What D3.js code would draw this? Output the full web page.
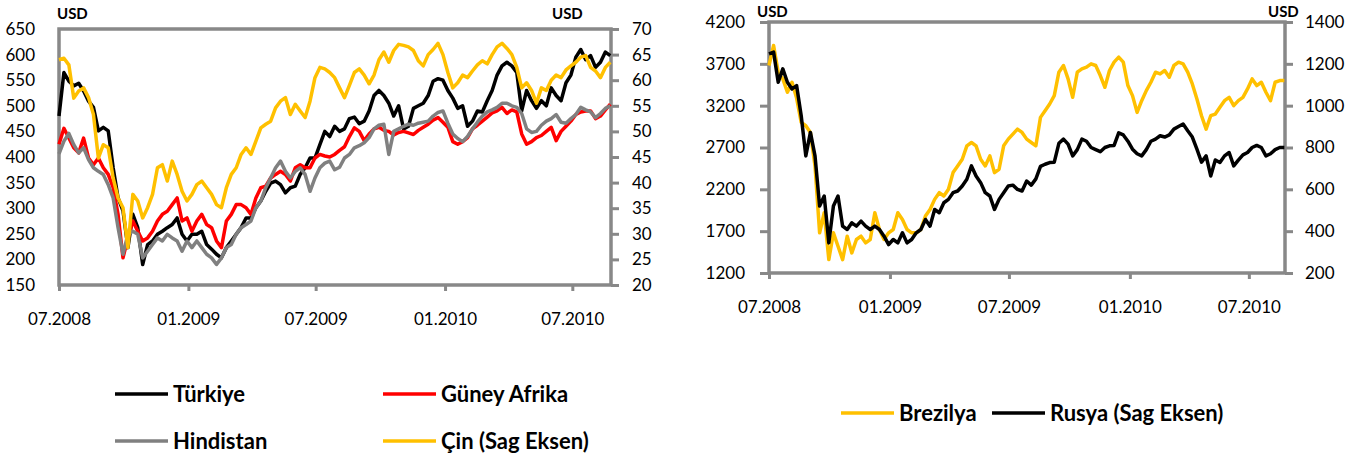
<!DOCTYPE html>
<html>
<head>
<meta charset="utf-8">
<script src="https://cdn.jsdelivr.net/npm/d3@7"></script>
<style>
  body { margin: 0; background: #fff; }
  text { font-family: Lato, "Open Sans", sans-serif; fill: #000; }
  .tick text { font-size: 17px; }
  .unit { font-size: 15px; font-weight: bold; }
  .legend text { font-size: 22px; font-weight: bold; }
</style>
</head>
<body>
<div id="charts"></div>
<script>
// weekly closes, 07.2008 - 08.2010

const START_DATE = new Date(2008, 6, 1);
const END_DATE = new Date(2010, 7, 25);

const TURKIYE = [
  480, 565, 548, 539, 544, 529, 509, 497, 451, 458,
  451, 379, 320, 295, 223, 288, 262, 190, 229, 236,
  249, 255, 262, 268, 281, 249, 236, 249, 249, 255,
  229, 220, 210, 203, 223, 236, 249, 262, 281, 281,
  301, 314, 333, 349, 353, 346, 330, 340, 343, 366,
  379, 398, 398, 424, 450, 440, 460, 450, 455, 475,
  478, 465, 470, 490, 520, 530, 520, 505, 480, 500,
  455, 460, 495, 500, 505, 520, 548, 553, 550, 530,
  515, 495, 500, 460, 470, 490, 488, 510, 530, 560,
  578, 585, 578, 565, 490, 530, 510, 495, 510, 500,
  535, 520, 510, 545, 560, 595, 610, 590, 598, 575,
  585, 605, 598
];

const GUNEY_AFRIKA = [
  425, 456, 437, 418, 408, 437, 398, 385, 398, 379,
  366, 340, 288, 203, 242, 275, 255, 236, 242, 255,
  275, 288, 294, 307, 320, 275, 281, 255, 275, 288,
  268, 262, 236, 223, 275, 288, 307, 307, 301, 288,
  320, 340, 343, 359, 366, 372, 366, 353, 379, 385,
  379, 379, 398, 405, 402, 400, 405, 413, 420, 440,
  457, 450, 432, 445, 455, 458, 452, 450, 443, 448,
  450, 447, 444, 452, 458, 464, 472, 477, 468, 458,
  430, 425, 430, 438, 455, 462, 470, 478, 486, 490,
  497, 485, 492, 488, 445, 425, 430, 438, 442, 450,
  458, 432, 450, 460, 470, 483, 488, 490, 490, 475,
  480, 492, 503
];

const HINDISTAN = [
  406, 431, 446, 424, 408, 418, 395, 379, 372, 366,
  346, 320, 262, 210, 249, 255, 249, 203, 216, 229,
  242, 236, 249, 242, 236, 216, 236, 223, 236, 223,
  210, 203, 190, 203, 223, 229, 249, 262, 268, 275,
  301, 314, 340, 359, 379, 392, 372, 359, 372, 379,
  366, 333, 359, 379, 388, 392, 375, 380, 398, 405,
  418, 422, 428, 438, 455, 462, 464, 405, 450, 455,
  460, 464, 462, 466, 468, 470, 480, 487, 490, 466,
  445, 436, 430, 440, 455, 468, 480, 488, 492, 497,
  505, 505, 500, 497, 485, 455, 448, 450, 462, 470,
  475, 483, 468, 466, 475, 483, 497, 492, 488, 477,
  485, 495, 500
];

// right axis
const CIN = [
  64, 64.3, 63, 56.5, 57.9, 58.5, 56.6, 53.3, 44.8, 47.4,
  46.8, 40.9, 37, 35.1, 27.3, 37.7, 36.4, 33.1, 35.1, 37.7,
  42.9, 43.5, 40.3, 44.2, 41.6, 38.3, 36.4, 37.7, 39.6, 40.3,
  39, 37.7, 35.7, 35.1, 39, 41.6, 42.9, 45.5, 46.8, 45.5,
  48.1, 50.7, 51.4, 52, 54.6, 55.9, 56.6, 53.3, 55.3, 54,
  52.7, 55.9, 60.5, 62.5, 62.2, 61.5, 60.5, 58.5, 56.6, 59,
  61.5, 62.2, 61, 59.3, 61, 64, 65.5, 63.5, 65.8, 67,
  66.8, 66.5, 65.8, 63.8, 62.8, 65, 66, 67.2, 65, 61.5,
  58.5, 59.5, 61, 60.5, 61.8, 63, 63.8, 63.2, 65, 66.5,
  67.2, 66.2, 65, 62.5, 58.5, 59.5, 58, 55.5, 58.5, 58,
  60, 61, 60.5, 62, 62.8, 63.5, 64.5, 64.8, 62.5, 61.8,
  60.5, 62.5, 63.5
];

const BREZILYA = [
  3680, 3920, 3600, 3520, 3360, 3480, 3290, 3000, 2960, 2880,
  2480, 1680, 1920, 1360, 1680, 1520, 1360, 1640, 1440, 1600,
  1640, 1560, 1600, 1920, 1720, 1600, 1680, 1720, 1920, 1840,
  1720, 1680, 1680, 1720, 1880, 1960, 2080, 2160, 2120, 2200,
  2400, 2480, 2560, 2720, 2760, 2720, 2560, 2480, 2600, 2400,
  2440, 2720, 2800, 2860, 2920, 2880, 2800, 2760, 2720, 3060,
  3140, 3220, 3320, 3600, 3680, 3520, 3300, 3600, 3640, 3660,
  3700, 3680, 3560, 3420, 3620, 3720, 3780, 3720, 3440, 3320,
  3120, 3260, 3380, 3480, 3600, 3580, 3620, 3540, 3680, 3720,
  3700, 3600, 3460, 3280, 3080, 2920, 3080, 3100, 3180, 3260,
  3300, 3200, 3260, 3300, 3400, 3520, 3440, 3480, 3360, 3260,
  3480, 3500, 3500
];

// right axis
const RUSYA = [
  1248, 1256, 1112, 1176, 1112, 1080, 1096, 952, 760, 872,
  760, 520, 568, 344, 520, 568, 424, 408, 440, 424,
  448, 424, 408, 424, 408, 376, 336, 360, 344, 392,
  344, 360, 392, 408, 456, 424, 504, 488, 536, 552,
  584, 592, 616, 648, 712, 664, 632, 584, 568, 504,
  552, 584, 616, 620, 600, 592, 640, 620, 650, 710,
  720, 728, 730, 820, 840, 816, 760, 790, 840, 830,
  800, 790, 780, 800, 808, 810, 870, 860, 830, 792,
  770, 760, 790, 830, 840, 856, 850, 860, 888, 900,
  912, 880, 850, 792, 730, 760, 664, 740, 728, 760,
  776, 712, 740, 765, 776, 800, 810, 800, 760, 770,
  790, 800, 800
];

const X_TICKS = ['07.2008', '01.2009', '07.2009', '01.2010', '07.2010'];
const LEFT_TICKS_1 = [150, 200, 250, 300, 350, 400, 450, 500, 550, 600, 650];
const RIGHT_TICKS_1 = [20, 25, 30, 35, 40, 45, 50, 55, 60, 65, 70];
const LEFT_TICKS_2 = [1200, 1700, 2200, 2700, 3200, 3700, 4200];
const RIGHT_TICKS_2 = [200, 400, 600, 800, 1000, 1200, 1400];

const BLACK = '#000000';
const RED = '#ff0000';
const GRAY = '#808080';
const GOLD = '#ffc000';
const FRAME_COLOR = '#888888';

const parseTick = d3.timeParse('%m.%Y');
const DATES = TURKIYE.map((d, i) => d3.timeDay.offset(START_DATE, i * 7));

const svg = d3.select('#charts')
  .append('svg')
    .attr('width', 1366)
    .attr('height', 457);

// draw one panel: frame, axes, series
function build_panel(box, leftDomain, rightDomain, leftTicks, rightTicks, series, opts) {

  const X_SCALE = d3.scaleTime()
    .domain([START_DATE, END_DATE])
    .range([box.left, box.right]);

  const Y_LEFT = d3.scaleLinear()
    .domain(leftDomain)
    .range([box.bottom, box.top]);

  const Y_RIGHT = d3.scaleLinear()
    .domain(rightDomain)
    .range([box.bottom, box.top]);

  // x axis
  const xAxis = svg.append('g')
    .attr('transform', 'translate(0,' + box.bottom + ')')
    .call(d3.axisBottom(X_SCALE)
      .tickValues(X_TICKS.map(parseTick))
      .tickFormat(d3.timeFormat('%m.%Y'))
      .tickSizeInner(6)
      .tickSizeOuter(0)
      .tickPadding(opts.xPad));

  const yLeft = svg.append('g')
    .attr('transform', 'translate(' + box.left + ',0)')
    .call(d3.axisLeft(Y_LEFT)
      .tickValues(leftTicks)
      .tickFormat(d3.format('d'))
      .tickSizeInner(opts.leftTick)
      .tickSizeOuter(0)
      .tickPadding(opts.leftPad));

  const yRight = svg.append('g')
    .attr('transform', 'translate(' + box.right + ',0)')
    .call(d3.axisRight(Y_RIGHT)
      .tickValues(rightTicks)
      .tickFormat(d3.format('d'))
      .tickSizeInner(8)
      .tickSizeOuter(0)
      .tickPadding(opts.rightPad));

  [xAxis, yLeft, yRight].forEach((g) => {
    g.select('.domain').remove();
    g.selectAll('.tick line')
      .attr('stroke', FRAME_COLOR)
      .attr('stroke-width', 3);
  });

  // frame
  svg.append('rect')
    .attr('x', box.left)
    .attr('y', box.top)
    .attr('width', box.right - box.left)
    .attr('height', box.bottom - box.top)
    .attr('fill', 'none')
    .attr('stroke', FRAME_COLOR)
    .attr('stroke-width', 3.5);

  series.forEach((s) => {
    const yScale = s.axis == 'right' ? Y_RIGHT : Y_LEFT;
    const line = d3.line()
      .x((d, i) => X_SCALE(DATES[i]))
      .y((d) => yScale(d));
    svg.append('path')
      .datum(s.values)
      .attr('d', line)
      .attr('fill', 'none')
      .attr('stroke', s.color)
      .attr('stroke-width', 3.5)
      .attr('stroke-linejoin', 'round');
  });
}

build_panel(
  {left: 59, right: 611, top: 29, bottom: 285},
  [150, 650], [20, 70], LEFT_TICKS_1, RIGHT_TICKS_1,
  [
    {values: TURKIYE, color: BLACK, axis: 'left'},
    {values: GUNEY_AFRIKA, color: RED, axis: 'left'},
    {values: HINDISTAN, color: GRAY, axis: 'left'},
    {values: CIN, color: GOLD, axis: 'right'}
  ],
  {xPad: 22, leftTick: 0, leftPad: 24, rightPad: 13}
);

build_panel(
  {left: 769, right: 1285, top: 22, bottom: 273},
  [1200, 4200], [200, 1400], LEFT_TICKS_2, RIGHT_TICKS_2,
  [
    {values: BREZILYA, color: GOLD, axis: 'left'},
    {values: RUSYA, color: BLACK, axis: 'right'}
  ],
  {xPad: 22, leftTick: 9, leftPad: 15, rightPad: 12}
);

// units
svg.append('text').attr('class', 'unit').attr('x', 57).attr('y', 19).text('USD');
svg.append('text').attr('class', 'unit').attr('x', 552).attr('y', 19).text('USD');
svg.append('text').attr('class', 'unit').attr('x', 757).attr('y', 17).text('USD');
svg.append('text').attr('class', 'unit').attr('x', 1268).attr('y', 17).text('USD');

// legends
const LEGEND_1 = [
  {name: 'Türkiye', color: BLACK, x: 115, y: 394},
  {name: 'Güney Afrika', color: RED, x: 383, y: 394},
  {name: 'Hindistan', color: GRAY, x: 115, y: 441},
  {name: 'Çin (Sag Eksen)', color: GOLD, x: 383, y: 441}
];
const LEGEND_2 = [
  {name: 'Brezilya', color: GOLD, x: 841, y: 413},
  {name: 'Rusya (Sag Eksen)', color: BLACK, x: 992, y: 413}
];

const legend = svg.append('g').attr('class', 'legend');
LEGEND_1.concat(LEGEND_2).forEach((d) => {
  legend.append('line')
    .attr('x1', d.x)
    .attr('x2', d.x + 53)
    .attr('y1', d.y)
    .attr('y2', d.y)
    .attr('stroke', d.color)
    .attr('stroke-width', 3.5);
  legend.append('text')
    .attr('x', d.x + 58)
    .attr('y', d.y)
    .attr('dy', '0.35em')
    .text(d.name);
});
</script>
</body>
</html>
